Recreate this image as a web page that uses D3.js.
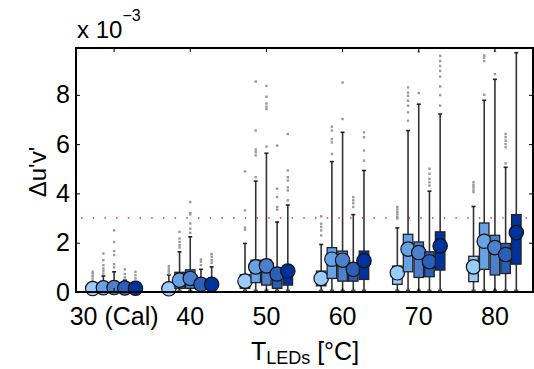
<!DOCTYPE html>
<html>
<head>
<meta charset="utf-8">
<script src="https://cdn.jsdelivr.net/npm/d3@7"></script>
<style>
  body { margin: 0; background: #fff; }
  text { font-family: "Liberation Sans", Arial, sans-serif; }
</style>
</head>
<body>
<svg id="chart" width="534" height="369"></svg>
<script>
// Grupos de temperatura y series
const groups = ["30 (Cal)", "40", "50", "60", "70", "80"];
const seriesColors = ["#99ccff", "#66a3e6", "#4d80cc", "#2b5eb8", "#003399"];
const yTicks = [0, 2, 4, 6, 8];
const limit = 3;

// Valores (x 10^-3): [serie][grupo]
const med = [
  [0.14, 0.13, 0.44, 0.55, 0.78, 1.02],
  [0.17, 0.48, 1.02, 1.33, 1.74, 2.06],
  [0.18, 0.55, 1.06, 1.29, 1.60, 1.80],
  [0.16, 0.31, 0.73, 0.92, 1.23, 1.52],
  [0.15, 0.31, 0.85, 1.27, 1.87, 2.41]
];
const q1 = [
  [0.03, 0.05, 0.15, 0.25, 0.31, 0.42],
  [0.04, 0.15, 0.38, 0.55, 0.82, 0.92],
  [0.04, 0.15, 0.28, 0.44, 0.59, 0.69],
  [0.03, 0.10, 0.15, 0.44, 0.62, 0.75],
  [0.03, 0.10, 0.28, 0.51, 0.89, 1.13]
];
const q3 = [
  [0.22, 0.30, 0.70, 0.85, 1.05, 1.45],
  [0.28, 0.80, 1.29, 1.80, 2.34, 2.80],
  [0.30, 0.90, 1.29, 1.66, 2.03, 2.30],
  [0.25, 0.50, 0.89, 1.18, 1.63, 1.97],
  [0.24, 0.50, 0.82, 1.66, 2.44, 3.14]
];
const whiskHi = [
  [0.38, 0.69, 1.97, 1.93, 2.60, 3.47],
  [0.65, 1.63, 4.50, 5.29, 6.55, 7.78],
  [0.82, 2.24, 5.63, 6.48, 7.62, 8.63],
  [0.48, 0.92, 2.84, 3.14, 4.09, 5.06],
  [0.42, 1.02, 3.53, 4.93, 7.22, 9.71]
];
const outliers = [
  [[0.45, 0.55, 0.65, 0.75, 0.82], [0.75, 0.85, 0.95, 1.05], [2.53, 2.61, 3.31, 4.89],
   [2.30, 2.50, 2.64, 2.77, 3.07], [2.98, 3.05, 3.15, 3.25, 3.35, 3.45], [4.05, 4.15, 4.25, 4.35, 4.46]],
  [[0.75, 0.86, 0.96, 1.09, 1.29, 1.56], [1.80, 1.90, 2.03, 2.17, 2.44], [4.66, 5.54, 5.67, 5.78, 6.55, 8.54],
   [5.60, 6.07, 6.20, 6.55, 6.71], [6.95, 7.29, 7.56, 7.76, 7.96, 8.09, 8.30], [8.00, 9.37, 9.51, 9.60]],
  [[1.00, 1.13, 1.50, 1.66, 2.03, 2.50], [2.40, 2.57, 2.78, 3.15, 3.20, 3.65], [5.90, 7.42, 7.52, 7.65, 7.92, 8.36],
   [7.02, 8.50], [8.07, 9.75], [8.84, 9.78]],
  [[0.59, 0.73, 0.92], [1.09, 1.23, 1.32], [3.34, 3.45, 3.85, 4.19, 5.94],
   [3.45, 3.60, 3.72, 3.85], [4.32, 4.45, 4.59, 4.80, 5.00], [5.22, 5.87, 6.00, 6.14, 6.28, 6.41]],
  [[0.55, 0.68, 0.82], [1.18, 1.29, 1.43, 1.54], [3.72, 4.12, 4.25, 4.52, 4.66, 4.93, 6.41],
   [5.33, 5.74, 6.28, 6.48], [7.56, 7.99, 8.34, 8.74, 8.97, 9.17, 9.37, 9.58], []]
];

const svg = d3.select("#chart");
const mLeft = 76, mRight = 533, mTop = 48, mBottom = 292;

const xGroup = d3.scaleBand().domain(groups).range([mLeft, mRight]);
const xOff = d3.scaleLinear().domain([0, 4]).range([-21.4, 21.4]);
const y = d3.scaleLinear().domain([0, 9.9]).range([mBottom, mTop]);
const cx = (s, g) => xGroup(groups[g]) + xGroup.bandwidth() / 2 + xOff(s);

// Línea de límite
svg.append("line")
  .attr("x1", mLeft + 5).attr("x2", mRight)
  .attr("y1", y(limit)).attr("y2", y(limit))
  .attr("stroke", "#ff2a2a").attr("stroke-width", 1.5)
  .attr("stroke-dasharray", "1.5,10.2");

const boxW = 9.5, capW = 4, r = 7.2;

groups.forEach((gName, g) => {
  seriesColors.forEach((col, s) => {
    const x = cx(s, g);
    const gg = svg.append("g");
    // bigotes
    gg.append("line").attr("x1", x).attr("x2", x)
      .attr("y1", y(whiskHi[s][g])).attr("y2", y(0.04))
      .attr("stroke", "#333").attr("stroke-width", 1.6);
    gg.append("line").attr("x1", x - capW / 2).attr("x2", x + capW / 2)
      .attr("y1", y(whiskHi[s][g])).attr("y2", y(whiskHi[s][g]))
      .attr("stroke", "#222").attr("stroke-width", 1.6);
    gg.append("line").attr("x1", x - capW / 2).attr("x2", x + capW / 2)
      .attr("y1", y(0.07)).attr("y2", y(0.07))
      .attr("stroke", "#222").attr("stroke-width", 1.4);
    gg.append("rect").attr("x", x - 1.5).attr("y", y(0.02) - 1)
      .attr("width", 3).attr("height", 2.5).attr("fill", "#999");
    // valores atípicos
    gg.selectAll("rect.out").data(outliers[s][g]).enter()
      .append("rect").attr("class", "out")
      .attr("x", x - 1.2).attr("y", d => y(d) - 1.2)
      .attr("width", 2.4).attr("height", 2.4)
      .attr("fill", "#9a9a9a");
    // caja
    gg.append("rect")
      .attr("x", x - boxW / 2).attr("y", y(q3[s][g]))
      .attr("width", boxW).attr("height", y(q1[s][g]) - y(q3[s][g]))
      .attr("fill", col).attr("stroke", "#222").attr("stroke-width", 1.3);
    // marcador
    gg.append("circle")
      .attr("cx", x).attr("cy", y(med[s][g])).attr("r", r)
      .attr("fill", col).attr("stroke", "#111").attr("stroke-width", 1.2);
  });
});

// Marco y ejes
const fs = 25;
svg.append("g").attr("transform", `translate(${mLeft},0)`)
  .call(d3.axisLeft(y).tickValues(yTicks).tickSize(-4).tickPadding(6).tickFormat(d3.format("d")));
svg.append("g").attr("transform", `translate(${mRight},0)`)
  .call(d3.axisRight(y).tickValues(yTicks).tickSize(-4).tickFormat(""));
svg.append("g").attr("transform", `translate(0,${mBottom})`)
  .call(d3.axisBottom(xGroup).tickSize(-4).tickPadding(15));
svg.append("g").attr("transform", `translate(0,${mTop})`)
  .call(d3.axisTop(xGroup).tickSize(-4).tickFormat(""));
svg.selectAll(".domain").remove();
svg.selectAll(".tick line").attr("stroke", "#000").attr("stroke-width", 1);
svg.selectAll(".tick text").attr("font-size", fs).attr("fill", "#000")
  .style("font-family", "'Liberation Sans', Arial, sans-serif");

svg.append("rect").attr("x", mLeft).attr("y", mTop)
  .attr("width", mRight - mLeft).attr("height", mBottom - mTop)
  .attr("fill", "none").attr("stroke", "#000").attr("stroke-width", 2);

// Títulos
svg.append("text").attr("transform", "translate(46,172) rotate(-90)")
  .attr("text-anchor", "middle").attr("font-size", 24).text("Δu'v'");

const xt = svg.append("text").attr("x", 305).attr("y", 360)
  .attr("text-anchor", "middle").attr("font-size", 25);
xt.append("tspan").text("T");
xt.append("tspan").attr("font-size", 18).attr("dy", 4).text("LEDs");
xt.append("tspan").attr("dy", -4).text(" [°C]");

const sc = svg.append("text").attr("x", 77).attr("y", 38).attr("font-size", 24);
sc.append("tspan").text("x 10");
sc.append("tspan").attr("font-size", 16).attr("dy", -17).text("−3");
</script>
</body>
</html>
